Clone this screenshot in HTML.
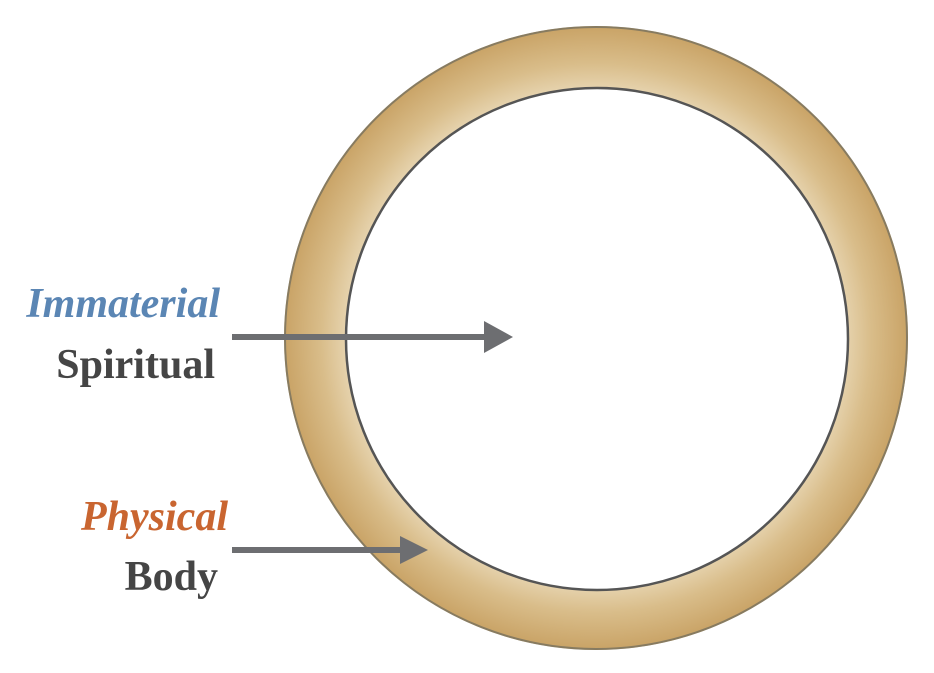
<!DOCTYPE html>
<html><head><meta charset="utf-8"><style>
html,body{margin:0;padding:0;background:#fff;width:934px;height:673px;overflow:hidden}
</style></head><body>
<svg width="934" height="673" viewBox="0 0 934 673" xmlns="http://www.w3.org/2000/svg">
<defs>
<radialGradient id="g" cx="596" cy="338" r="312" gradientUnits="userSpaceOnUse">
<stop offset="0.80" stop-color="#e6d3ae"/>
<stop offset="0.88" stop-color="#d9bd8a"/>
<stop offset="1" stop-color="#c9a366"/>
</radialGradient>
</defs>
<path fill-rule="evenodd" fill="url(#g)" d="M284,338a312,312 0 1,0 624,0a312,312 0 1,0 -624,0Z M346,339a251,251 0 1,0 502,0a251,251 0 1,0 -502,0Z"/>
<circle cx="596" cy="338" r="311" fill="none" stroke="#6b6a5e" stroke-width="2" opacity="0.7"/>
<circle cx="597" cy="339" r="251" fill="none" stroke="#555" stroke-width="2.5"/>
<g font-family="'Liberation Serif',serif" font-weight="bold" font-size="42" text-anchor="end">
<text x="220" y="317" fill="#5b86b4" font-style="italic">Immaterial</text>
<text x="215" y="378" fill="#454545">Spiritual</text>
<text x="228" y="530" fill="#c96530" font-style="italic">Physical</text>
<text x="218" y="590" fill="#454545">Body</text>
</g>
<g fill="#6d6e71">
<rect x="232" y="334" width="256" height="6"/>
<polygon points="484,321 513,337 484,353"/>
<rect x="232" y="547" width="172" height="6"/>
<polygon points="400,536 428,550 400,564"/>
</g>
</svg>
</body></html>
